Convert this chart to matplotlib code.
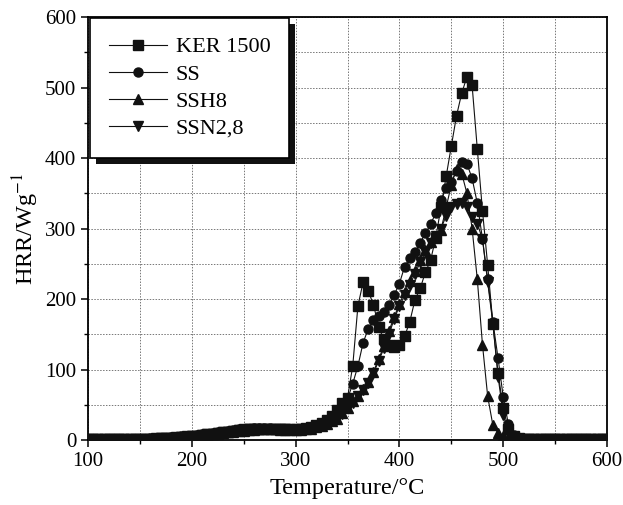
import matplotlib
matplotlib.use("Agg")
import matplotlib.pyplot as plt
from matplotlib.ticker import MultipleLocator
from matplotlib.patches import Rectangle

plt.rcParams['font.family'] = ['Liberation Serif', 'DejaVu Serif']
plt.rcParams['mathtext.fontset'] = 'stix'

temperature = list(range(100, 601, 5))

ker1500 = [1, 1, 1, 1, 1, 1, 1, 2, 2, 2, 2, 2, 2, 2, 3, 3, 3, 3, 4, 4,
           5, 6, 7, 8, 9, 10, 11, 12, 13, 14, 15, 15, 16, 16, 16, 16, 16, 15, 15, 15,
           15, 16, 17, 19, 21, 24, 28, 34,
           42, 52, 60, 105, 190, 224, 211, 192, 160, 143, 135, 132, 135, 147, 168, 199,
           215, 238, 255, 287, 330, 374, 417, 460, 492, 515, 503, 413, 325, 248, 165, 95,
           45, 15, 5,
           3, 2, 2, 1, 1, 1, 1, 1, 1, 1, 1, 1, 1, 1, 1, 1, 1, 1]

ss = [1, 1, 1, 1, 1, 1, 2, 2, 2, 2, 2, 2, 3, 3, 3, 3, 4, 4, 5, 5,
      6, 7, 8, 9, 10, 11, 12, 13, 14, 15, 16, 16, 17, 17, 17, 17, 16, 16, 15, 15,
      15, 16, 17, 18, 20, 23, 27, 33,
      42, 52, 58, 80, 105, 138, 158, 170, 176, 182, 192, 206, 222, 246, 258, 266,
      280, 293, 306, 322, 340, 357, 366, 382, 395, 392, 371, 336, 285, 228, 168, 116,
      61, 22, 7,
      3, 2, 2, 1, 1, 1, 1, 1, 1, 1, 1, 1, 1, 1, 1, 1, 1, 1]

ssh8 = [1, 1, 1, 1, 1, 1, 1, 1, 2, 2, 2, 2, 2, 2, 2, 3, 3, 3, 4, 4,
        5, 5, 6, 7, 8, 9, 10, 11, 12, 13, 13, 14, 14, 15, 15, 15, 15, 14, 14, 14,
        14, 14, 15, 16, 18, 20, 23, 27,
        30, 38, 46, 55, 63, 72, 82, 97, 115, 133, 155, 175, 193, 210, 225, 240,
        256, 270, 281, 290, 298, 330, 362, 385, 378, 350, 300, 228, 135, 62, 21, 10,
        5, 3, 2,
        1, 1, 1, 1, 1, 1, 1, 1, 1, 1, 1, 1, 1, 1, 1, 1, 1, 1]

ssn28 = [1, 1, 1, 1, 1, 1, 1, 2, 2, 2, 2, 2, 2, 3, 3, 3, 3, 4, 4, 5,
         5, 6, 7, 8, 9, 10, 11, 12, 13, 14, 14, 15, 15, 16, 16, 16, 16, 15, 15, 14,
         14, 15, 16, 17, 19, 21, 24, 27,
         30, 37, 45, 53, 62, 71, 81, 95, 112, 130, 150, 172, 190, 205, 220, 236,
         252, 266, 279, 290, 300, 318, 330, 335, 336, 330, 317, 307, 285, 224, 165, 90,
         36, 10, 4,
         2, 2, 1, 1, 1, 1, 1, 1, 1, 1, 1, 1, 1, 1, 1, 1, 1, 1]

series_names = ['KER 1500', 'SS', 'SSH8', 'SSN2,8']
series_values = [ker1500, ss, ssh8, ssn28]
markers = ['s', 'o', '^', 'v']

xticks = [100, 200, 300, 400, 500, 600]
yticks = [0, 100, 200, 300, 400, 500, 600]

fig = plt.figure(figsize=(6.23, 5.05), dpi=100)
ax = fig.add_axes([0.1413, 0.1287, 0.8331, 0.8376])

for name, vals, mk in zip(series_names, series_values, markers):
    ax.plot(temperature, vals, color='#111111', linewidth=0.8, marker=mk,
            markersize=6.5, label=name, zorder=3)

ax.set_xlim(100, 600)
ax.set_ylim(0, 600)
ax.set_xticks(xticks)
ax.set_yticks(yticks)
ax.xaxis.set_minor_locator(MultipleLocator(50))
ax.yaxis.set_minor_locator(MultipleLocator(50))
ax.tick_params(which='major', direction='out', length=5, width=1.1, labelsize=15)
ax.tick_params(which='minor', direction='out', length=3, width=1.0)
ax.grid(which='both', color='#777777', linestyle=(0, (1.5, 1.5)), linewidth=0.7, zorder=0)
ax.set_axisbelow(True)
for sp in ax.spines.values():
    sp.set_linewidth(1.3)

ax.set_xlabel('Temperature/°C', fontsize=17.5, labelpad=5)
ax.set_ylabel(r'HRR/Wg$^{-1}$', fontsize=17.5, labelpad=3)

leg = ax.legend(loc='upper left', bbox_to_anchor=(0.004, 0.998), borderaxespad=0,
                fontsize=16, frameon=True, fancybox=False, framealpha=1,
                edgecolor='black', handlelength=2.6, handletextpad=0.4,
                labelspacing=0.3, borderpad=0.85)
leg.get_frame().set_linewidth(1.2)
leg.set_zorder(6)

fig.canvas.draw()
bb = leg.get_window_extent()
inv = ax.transAxes.inverted()
(x0, y0) = inv.transform((bb.x0 + 6, bb.y0 - 6))
(x1, y1) = inv.transform((bb.x1 + 6, bb.y1 - 6))
shadow = Rectangle((x0, y0), x1 - x0, y1 - y0, transform=ax.transAxes,
                   facecolor='#111111', edgecolor='none', zorder=5.5, clip_on=False)
ax.add_patch(shadow)

fig.savefig('out.png', dpi=100)
